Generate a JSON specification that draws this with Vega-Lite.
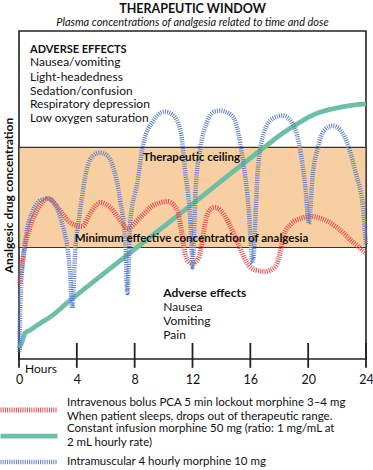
{
  "$schema": "https://vega.github.io/schema/vega-lite/v6.json",
  "autosize": {"type": "none"},
  "padding": {"left": 19, "top": 31, "right": 7, "bottom": 111},
  "width": 347,
  "height": 328,
  "background": "white",
  "title": {
    "text": "THERAPEUTIC WINDOW",
    "subtitle": "Plasma concentrations of analgesia related to time and dose",
    "anchor": "middle",
    "font": "Lato",
    "fontSize": 12.5,
    "fontWeight": "bold",
    "color": "#111",
    "subtitleFont": "Lato",
    "subtitleFontSize": 11,
    "subtitleFontStyle": "italic",
    "subtitleColor": "#111",
    "subtitlePadding": 2,
    "offset": 3
  },
  "config": {
    "font": "Lato",
    "view": {"stroke": "#222", "strokeWidth": 1.6},
    "axis": {"grid": false}
  },
  "datasets": {
    "curves": [
      {"s": "CI", "h": 0.0, "c": 3.3}, {"s": "CI", "h": 0.21, "c": 5.2}, {"s": "CI", "h": 0.42, "c": 7.9}, {"s": "CI", "h": 0.76, "c": 8.8}, {"s": "CI", "h": 1.46, "c": 10.9}, {"s": "CI", "h": 2.15, "c": 12.8}, {"s": "CI", "h": 3.54, "c": 17.9}, {"s": "CI", "h": 5.62, "c": 25.2}, {"s": "CI", "h": 11.17, "c": 44.4}, {"s": "CI", "h": 16.92, "c": 64.4}, {"s": "CI", "h": 18.1, "c": 68.4}, {"s": "CI", "h": 19.14, "c": 71.4}, {"s": "CI", "h": 20.39, "c": 74.5}, {"s": "CI", "h": 22.05, "c": 76.6}, {"s": "CI", "h": 23.3, "c": 77.5}, {"s": "CI", "h": 24.0, "c": 77.8},
      {"s": "IV", "h": 0.05, "c": 23.1}, {"s": "IV", "h": 0.28, "c": 31.0}, {"s": "IV", "h": 0.76, "c": 40.1}, {"s": "IV", "h": 1.25, "c": 45.3}, {"s": "IV", "h": 2.01, "c": 48.9}, {"s": "IV", "h": 2.84, "c": 45.3}, {"s": "IV", "h": 3.54, "c": 41.6}, {"s": "IV", "h": 4.37, "c": 40.4}, {"s": "IV", "h": 4.92, "c": 44.4}, {"s": "IV", "h": 5.62, "c": 47.7}, {"s": "IV", "h": 6.31, "c": 46.2}, {"s": "IV", "h": 7.0, "c": 42.2}, {"s": "IV", "h": 7.49, "c": 39.8}, {"s": "IV", "h": 8.39, "c": 43.2}, {"s": "IV", "h": 9.29, "c": 46.8}, {"s": "IV", "h": 10.26, "c": 48.0}, {"s": "IV", "h": 10.96, "c": 45.3}, {"s": "IV", "h": 11.23, "c": 39.2}, {"s": "IV", "h": 11.44, "c": 33.1}, {"s": "IV", "h": 11.65, "c": 30.1}, {"s": "IV", "h": 12.0, "c": 29.2}, {"s": "IV", "h": 12.41, "c": 30.7}, {"s": "IV", "h": 12.69, "c": 36.2}, {"s": "IV", "h": 12.9, "c": 42.2}, {"s": "IV", "h": 13.18, "c": 45.3}, {"s": "IV", "h": 13.52, "c": 46.2}, {"s": "IV", "h": 13.94, "c": 45.3}, {"s": "IV", "h": 14.49, "c": 41.6}, {"s": "IV", "h": 15.12, "c": 35.6}, {"s": "IV", "h": 15.74, "c": 29.5}, {"s": "IV", "h": 16.37, "c": 27.1}, {"s": "IV", "h": 17.06, "c": 26.7}, {"s": "IV", "h": 17.75, "c": 28.3}, {"s": "IV", "h": 18.1, "c": 33.1}, {"s": "IV", "h": 18.31, "c": 37.7}, {"s": "IV", "h": 18.79, "c": 41.0}, {"s": "IV", "h": 19.49, "c": 42.9}, {"s": "IV", "h": 20.18, "c": 43.5}, {"s": "IV", "h": 20.87, "c": 42.9}, {"s": "IV", "h": 21.91, "c": 40.4}, {"s": "IV", "h": 22.96, "c": 36.2}, {"s": "IV", "h": 24.0, "c": 32.2},
      {"s": "IM", "h": 0.03, "c": 2.1}, {"s": "IM", "h": 0.1, "c": 17.9}, {"s": "IM", "h": 0.28, "c": 30.1}, {"s": "IM", "h": 0.55, "c": 39.2}, {"s": "IM", "h": 0.97, "c": 45.3}, {"s": "IM", "h": 1.46, "c": 48.3}, {"s": "IM", "h": 2.01, "c": 48.9}, {"s": "IM", "h": 2.57, "c": 46.5}, {"s": "IM", "h": 3.05, "c": 40.1}, {"s": "IM", "h": 3.4, "c": 32.2}, {"s": "IM", "h": 3.54, "c": 25.5}, {"s": "IM", "h": 3.68, "c": 15.5},
      {"s": "IM", "h": 3.88, "c": 32.2}, {"s": "IM", "h": 4.23, "c": 45.3}, {"s": "IM", "h": 4.72, "c": 58.4}, {"s": "IM", "h": 5.13, "c": 62.0}, {"s": "IM", "h": 5.62, "c": 62.9}, {"s": "IM", "h": 6.1, "c": 62.0}, {"s": "IM", "h": 6.52, "c": 58.4}, {"s": "IM", "h": 7.0, "c": 48.3}, {"s": "IM", "h": 7.35, "c": 35.3}, {"s": "IM", "h": 7.49, "c": 20.1},
      {"s": "IM", "h": 7.7, "c": 42.2}, {"s": "IM", "h": 8.18, "c": 53.5}, {"s": "IM", "h": 8.6, "c": 65.7}, {"s": "IM", "h": 9.29, "c": 72.6}, {"s": "IM", "h": 10.06, "c": 75.4}, {"s": "IM", "h": 10.61, "c": 74.5}, {"s": "IM", "h": 11.17, "c": 69.6}, {"s": "IM", "h": 11.51, "c": 56.5}, {"s": "IM", "h": 11.86, "c": 41.3}, {"s": "IM", "h": 12.0, "c": 28.0},
      {"s": "IM", "h": 12.21, "c": 51.4}, {"s": "IM", "h": 12.55, "c": 64.4}, {"s": "IM", "h": 13.04, "c": 72.6}, {"s": "IM", "h": 13.52, "c": 75.4}, {"s": "IM", "h": 13.94, "c": 75.7}, {"s": "IM", "h": 14.42, "c": 75.1}, {"s": "IM", "h": 14.84, "c": 73.6}, {"s": "IM", "h": 15.46, "c": 61.4}, {"s": "IM", "h": 15.88, "c": 46.2}, {"s": "IM", "h": 16.16, "c": 29.2},
      {"s": "IM", "h": 16.5, "c": 56.5}, {"s": "IM", "h": 16.92, "c": 68.7}, {"s": "IM", "h": 17.55, "c": 73.3}, {"s": "IM", "h": 18.24, "c": 74.2}, {"s": "IM", "h": 18.93, "c": 71.7}, {"s": "IM", "h": 19.49, "c": 62.6}, {"s": "IM", "h": 19.83, "c": 51.4}, {"s": "IM", "h": 20.04, "c": 41.3},
      {"s": "IM", "h": 20.32, "c": 56.5}, {"s": "IM", "h": 20.67, "c": 64.4}, {"s": "IM", "h": 21.08, "c": 69.6}, {"s": "IM", "h": 21.71, "c": 71.1}, {"s": "IM", "h": 22.26, "c": 69.6}, {"s": "IM", "h": 22.82, "c": 64.4}, {"s": "IM", "h": 23.3, "c": 56.5}, {"s": "IM", "h": 23.79, "c": 46.2}, {"s": "IM", "h": 24.0, "c": 34.7}
    ],
    "band": [{"lo": 34.0, "hi": 64.5}],
    "ticks": [{"h": 0}, {"h": 4}, {"h": 8}, {"h": 12}, {"h": 16}, {"h": 20}, {"h": 24}],
    "notes": [
      {"role": "heading", "h": 0.76, "c": 93.3, "t": "ADVERSE EFFECTS"},
      {"role": "item", "h": 0.76, "c": 89.2, "t": "Nausea/vomiting"},
      {"role": "item", "h": 0.76, "c": 84.9, "t": "Light-headedness"},
      {"role": "item", "h": 0.76, "c": 80.6, "t": "Sedation/confusion"},
      {"role": "item", "h": 0.76, "c": 76.5, "t": "Respiratory depression"},
      {"role": "item", "h": 0.76, "c": 72.3, "t": "Low oxygen saturation"},
      {"role": "label", "h": 11.93, "c": 60.4, "t": "Therapeutic ceiling"},
      {"role": "label", "h": 11.93, "c": 35.7, "t": "Minimum effective concentration of analgesia"},
      {"role": "subhead", "h": 9.98, "c": 18.9, "t": "Adverse effects"},
      {"role": "item", "h": 9.98, "c": 14.6, "t": "Nausea"},
      {"role": "item", "h": 9.98, "c": 10.4, "t": "Vomiting"},
      {"role": "item", "h": 9.98, "c": 6.1, "t": "Pain"},
      {"role": "item", "h": 0.41, "c": -4.3, "t": "Hours"}
    ]
  },
  "layer": [
    {
      "data": {"name": "band"},
      "mark": {"type": "rect", "fill": "#F8CFA2", "stroke": "#333", "strokeWidth": 1.2},
      "encoding": {
        "x": {"datum": 0, "type": "quantitative", "scale": {"domain": [0, 24], "nice": false, "zero": false},
              "axis": {"values": [0, 4, 8, 12, 16, 20, 24], "title": null, "ticks": false, "domain": false, "labelFontSize": 12.5, "labelColor": "#111", "labelPadding": 14, "labelFlush": false}},
        "x2": {"datum": 24},
        "y": {"field": "lo", "type": "quantitative", "scale": {"domain": [0, 100], "nice": false, "zero": false},
              "axis": {"title": "Analgesic drug concentration", "labels": false, "ticks": false, "domain": false, "titleFontSize": 12, "titleFontWeight": "bold", "titleColor": "#111", "titlePadding": 4}},
        "y2": {"field": "hi"}
      }
    },
    {
      "data": {"name": "ticks"},
      "mark": {"type": "rule", "stroke": "#222", "strokeWidth": 1.8},
      "encoding": {
        "x": {"field": "h", "type": "quantitative"},
        "y": {"datum": 4.9, "type": "quantitative"},
        "y2": {"datum": -2.7}
      }
    },
    {
      "data": {"name": "curves"},
      "transform": [{"filter": "datum.s === 'CI'"}],
      "mark": {"type": "line", "interpolate": "monotone", "strokeCap": "butt"},
      "encoding": {
        "x": {"field": "h", "type": "quantitative"},
        "y": {"field": "c", "type": "quantitative"},
        "color": {"field": "s", "type": "nominal", "scale": {"domain": ["IV", "CI", "IM"], "range": ["#E8474E", "#6CBFA6", "#5B7FC8"]},
          "legend": {
            "title": null, "orient": "none", "legendX": -21, "legendY": 366, "direction": "vertical",
            "symbolType": "stroke", "symbolSize": 3249, "symbolStrokeWidth": 4, "labelOffset": 7, "padding": 0, "rowPadding": 0, "clipHeight": 26,
            "labelFont": "Lato", "labelFontSize": 11.5, "labelColor": "#111", "labelLimit": 0,
            "labelExpr": "datum.value === 'IV' ? ['Intravenous bolus PCA 5 min lockout morphine 3–4 mg', 'When patient sleeps, drops out of therapeutic range.'] : datum.value === 'CI' ? ['Constant infusion morphine 50 mg (ratio: 1 mg/mL at', '2 mL hourly rate)'] : 'Intramuscular 4 hourly morphine 10 mg'",
            "encode": {
              "symbols": {"update": {"strokeWidth": {"signal": "datum.value === 'CI' ? 4.5 : datum.value === 'IV' ? 5 : 2.5"}}},
              "labels": {"update": {"dy": {"signal": "datum.value === 'IM' ? 0 : -7"}, "lineHeight": {"value": 14}}}
            }
          }},
        "strokeDash": {"field": "s", "type": "nominal", "scale": {"domain": ["IV", "CI", "IM"], "range": [[1, 1.2], [1, 0], [1, 1.2]]}, "legend": null},
        "strokeWidth": {"field": "s", "type": "nominal", "scale": {"domain": ["IV", "CI", "IM"], "range": [5, 4.5, 2.5]}, "legend": null}
      }
    },
    {
      "data": {"name": "curves"},
      "transform": [{"filter": "datum.s === 'IV'"}],
      "mark": {"type": "line", "interpolate": "monotone", "strokeCap": "butt"},
      "encoding": {
        "x": {"field": "h", "type": "quantitative"},
        "y": {"field": "c", "type": "quantitative"},
        "color": {"field": "s", "type": "nominal"},
        "strokeDash": {"field": "s", "type": "nominal"},
        "strokeWidth": {"field": "s", "type": "nominal"}
      }
    },
    {
      "data": {"name": "curves"},
      "transform": [{"filter": "datum.s === 'IM'"}],
      "mark": {"type": "line", "interpolate": "monotone", "strokeCap": "butt"},
      "encoding": {
        "x": {"field": "h", "type": "quantitative"},
        "y": {"field": "c", "type": "quantitative"},
        "color": {"field": "s", "type": "nominal"},
        "strokeDash": {"field": "s", "type": "nominal"},
        "strokeWidth": {"field": "s", "type": "nominal"}
      }
    },
    {
      "data": {"name": "notes"},
      "transform": [{"filter": "datum.role === 'heading'"}],
      "mark": {"type": "text", "align": "left", "baseline": "alphabetic", "fontWeight": "bold", "fontSize": 11, "color": "#111"},
      "encoding": {"x": {"field": "h", "type": "quantitative"}, "y": {"field": "c", "type": "quantitative"}, "text": {"field": "t"}}
    },
    {
      "data": {"name": "notes"},
      "transform": [{"filter": "datum.role === 'subhead'"}],
      "mark": {"type": "text", "align": "left", "baseline": "alphabetic", "fontWeight": "bold", "fontSize": 12, "color": "#111"},
      "encoding": {"x": {"field": "h", "type": "quantitative"}, "y": {"field": "c", "type": "quantitative"}, "text": {"field": "t"}}
    },
    {
      "data": {"name": "notes"},
      "transform": [{"filter": "datum.role === 'item'"}],
      "mark": {"type": "text", "align": "left", "baseline": "alphabetic", "fontSize": 12, "color": "#111"},
      "encoding": {"x": {"field": "h", "type": "quantitative"}, "y": {"field": "c", "type": "quantitative"}, "text": {"field": "t"}}
    },
    {
      "data": {"name": "notes"},
      "transform": [{"filter": "datum.role === 'label'"}],
      "mark": {"type": "text", "align": "center", "baseline": "alphabetic", "fontWeight": "bold", "fontSize": 11.5, "color": "#111"},
      "encoding": {"x": {"field": "h", "type": "quantitative"}, "y": {"field": "c", "type": "quantitative"}, "text": {"field": "t"}}
    }
  ]
}
